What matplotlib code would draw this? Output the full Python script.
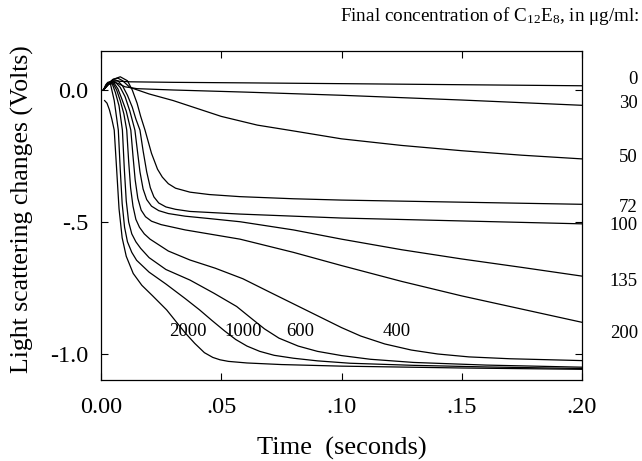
import matplotlib
matplotlib.use("Agg")
import matplotlib.pyplot as plt

plt.rcParams['font.family'] = ['Liberation Serif', 'DejaVu Serif']
plt.rcParams['mathtext.fontset'] = 'custom'
plt.rcParams['mathtext.rm'] = 'Liberation Serif'
plt.rcParams['mathtext.it'] = 'Liberation Serif:italic'

# light scattering traces (time in s, signal in V), one per C12E8 concentration
t_0 = [0.001, 0.003, 0.005, 0.008, 0.012, 0.03, 0.06, 0.1, 0.15, 0.2]
v_0 = [0.0, 0.025, 0.035, 0.033, 0.031, 0.029, 0.027, 0.024, 0.02, 0.016]

t_30 = [0.001, 0.003, 0.005, 0.007, 0.010, 0.015, 0.03, 0.06, 0.1, 0.15, 0.2]
v_30 = [0.0, 0.02, 0.03, 0.025, 0.012, 0.005, 0.0, -0.008, -0.02, -0.038, -0.058]

t_50 = [0.001, 0.003, 0.005, 0.007, 0.009, 0.012, 0.02, 0.03, 0.04, 0.05, 0.065,
        0.08, 0.1, 0.125, 0.15, 0.175, 0.2]
v_50 = [0.0, 0.02, 0.04, 0.045, 0.035, 0.01, -0.015, -0.04, -0.07, -0.10, -0.133,
        -0.155, -0.185, -0.21, -0.23, -0.247, -0.261]

t_72 = [0.001, 0.003, 0.005, 0.008, 0.011, 0.013, 0.015, 0.0165, 0.0183, 0.021,
        0.0235, 0.0255, 0.028, 0.031, 0.037, 0.045, 0.0578, 0.08, 0.1, 0.15, 0.2]
v_72 = [0.0, 0.02, 0.04, 0.05, 0.035, 0.0, -0.05, -0.1, -0.152, -0.24,
        -0.30, -0.33, -0.355, -0.372, -0.387, -0.396, -0.404, -0.412, -0.417, -0.425, -0.433]

t_100 = [0.001, 0.003, 0.005, 0.007, 0.009, 0.011, 0.013, 0.0145, 0.0162, 0.0175,
         0.019, 0.0205, 0.022, 0.024, 0.027, 0.031, 0.037, 0.0578, 0.1, 0.15, 0.2]
v_100 = [0.0, 0.025, 0.04, 0.035, 0.015, -0.02, -0.065, -0.11, -0.152, -0.23,
         -0.31, -0.37, -0.405, -0.428, -0.443, -0.452, -0.46, -0.47, -0.485, -0.496, -0.507]

t_135 = [0.001, 0.003, 0.0045, 0.006, 0.008, 0.010, 0.012, 0.0141, 0.015, 0.0162,
         0.0175, 0.019, 0.021, 0.024, 0.028, 0.035, 0.045, 0.0578, 0.08, 0.1, 0.125,
         0.15, 0.175, 0.2]
v_135 = [0.0, 0.025, 0.035, 0.03, 0.01, -0.025, -0.08, -0.152, -0.22, -0.31,
         -0.375, -0.415, -0.44, -0.457, -0.468, -0.478, -0.487, -0.499, -0.53, -0.565, -0.605,
         -0.64, -0.672, -0.705]

t_200 = [0.001, 0.0025, 0.004, 0.0055, 0.007, 0.0085, 0.0105, 0.0124, 0.0133, 0.0142,
         0.0153, 0.0167, 0.0185, 0.021, 0.025, 0.035, 0.0578, 0.08, 0.1, 0.125, 0.15,
         0.175, 0.2]
v_200 = [0.0, 0.02, 0.03, 0.025, 0.005, -0.03, -0.08, -0.152, -0.25, -0.34,
         -0.41, -0.455, -0.48, -0.497, -0.51, -0.53, -0.565, -0.615, -0.665, -0.725, -0.78,
         -0.83, -0.88]

t_400 = [0.001, 0.0025, 0.0035, 0.005, 0.0065, 0.008, 0.0095, 0.0107, 0.0115, 0.0123,
         0.0133, 0.0145, 0.016, 0.018, 0.0204, 0.028, 0.037, 0.0475, 0.059, 0.07, 0.08,
         0.09, 0.1, 0.108, 0.118, 0.129, 0.14, 0.153, 0.17, 0.2]
v_400 = [0.0, 0.02, 0.03, 0.025, 0.0, -0.04, -0.09, -0.152, -0.27, -0.37,
         -0.44, -0.49, -0.52, -0.545, -0.565, -0.61, -0.644, -0.675, -0.715, -0.765, -0.81,
         -0.855, -0.9, -0.932, -0.962, -0.985, -1.0, -1.011, -1.018, -1.025]

t_600 = [0.001, 0.0025, 0.0035, 0.0048, 0.006, 0.0075, 0.0089, 0.0097, 0.0105, 0.0115,
         0.0128, 0.0145, 0.0165, 0.02, 0.027, 0.037, 0.047, 0.0564, 0.0625, 0.068, 0.074,
         0.082, 0.09, 0.1, 0.112, 0.13, 0.16, 0.2]
v_600 = [0.0, 0.025, 0.03, 0.02, -0.01, -0.06, -0.152, -0.30, -0.42, -0.50,
         -0.545, -0.575, -0.60, -0.635, -0.68, -0.72, -0.77, -0.82, -0.865, -0.905, -0.94,
         -0.97, -0.99, -1.006, -1.02, -1.032, -1.042, -1.05]

t_1000 = [0.001, 0.002, 0.003, 0.004, 0.0055, 0.0072, 0.008, 0.0088, 0.0098, 0.011,
          0.0128, 0.0148, 0.02, 0.027, 0.035, 0.041, 0.046, 0.0513, 0.056, 0.0607, 0.066,
          0.072, 0.08, 0.09, 0.1035, 0.13, 0.16, 0.2]
v_1000 = [0.0, 0.02, 0.03, 0.02, -0.04, -0.152, -0.30, -0.43, -0.52, -0.575,
          -0.615, -0.645, -0.69, -0.735, -0.79, -0.833, -0.872, -0.912, -0.945, -0.97, -0.99,
          -1.005, -1.016, -1.026, -1.035, -1.043, -1.049, -1.055]

t_2000 = [0.0015, 0.0025, 0.0035, 0.0045, 0.0055, 0.0065, 0.0075, 0.0088, 0.0105, 0.0134,
          0.017, 0.0215, 0.0273, 0.031, 0.035, 0.039, 0.043, 0.0465, 0.0495, 0.053,
          0.0607, 0.075, 0.1, 0.15, 0.2]
v_2000 = [-0.04, -0.05, -0.075, -0.11, -0.152, -0.30, -0.45, -0.56, -0.63, -0.695,
          -0.74, -0.78, -0.833, -0.875, -0.92, -0.96, -0.995, -1.013, -1.022, -1.028,
          -1.034, -1.04, -1.046, -1.053, -1.058]

traces = [(t_0, v_0), (t_30, v_30), (t_50, v_50), (t_72, v_72), (t_100, v_100),
          (t_135, v_135), (t_200, v_200), (t_400, v_400), (t_600, v_600),
          (t_1000, v_1000), (t_2000, v_2000)]

# labels on the right margin (pixel rows)
right_labels = ["0", "30", "50", "72", "100", "135", "200"]
right_label_rows = [80, 104, 157, 207, 226, 281, 333]

# labels written inside the plot for the fast traces
inside_labels = ["2000", "1000", "600", "400"]
inside_label_t = [0.0362, 0.0590, 0.0830, 0.1230]
inside_label_v = -0.915

x_ticks = [0.0, 0.05, 0.10, 0.15, 0.20]
x_ticklabels = ["0.00", ".05", ".10", ".15", ".20"]
y_ticks = [0.0, -0.5, -1.0]
y_ticklabels = ["0.0", "-.5", "-1.0"]

W, H = 642, 461
fig = plt.figure(figsize=(W / 100, H / 100), dpi=100)
ax = fig.add_axes([101 / W, 1 - 380 / H, 481 / W, 329 / H])

for t, v in traces:
    ax.plot(t, v, color='black', lw=0.9)

ax.set_xlim(0, 0.2)
ax.set_ylim(-1.0985, 0.1477)
ax.set_xticks(x_ticks)
ax.set_xticklabels(x_ticklabels)
ax.set_yticks(y_ticks)
ax.set_yticklabels(y_ticklabels)
ax.tick_params(direction='in', length=5, width=0.8, top=True, right=True,
               labelsize=17.5)
ax.tick_params(axis='x', pad=12)
ax.tick_params(axis='y', pad=9)
for s in ax.spines.values():
    s.set_linewidth(0.9)

ax.set_xlabel("Time  (seconds)", fontsize=19, labelpad=14)
ax.set_ylabel("Light scattering changes (Volts)", fontsize=18.5)
ax.yaxis.set_label_coords(-0.139, 0.52)

for lab, tt in zip(inside_labels, inside_label_t):
    ax.text(tt, inside_label_v, lab, fontsize=13.5, ha='center', va='center')

for lab, row in zip(right_labels, right_label_rows):
    fig.text(638 / W, 1 - row / H, lab, fontsize=13.5, ha='right', va='center')

fig.text(640 / W, 1 - 16 / H, r"Final concentration of C$_{12}$E$_8$, in μg/ml:",
         fontsize=13.8, ha='right', va='center')

fig.savefig("out.png", dpi=100)
